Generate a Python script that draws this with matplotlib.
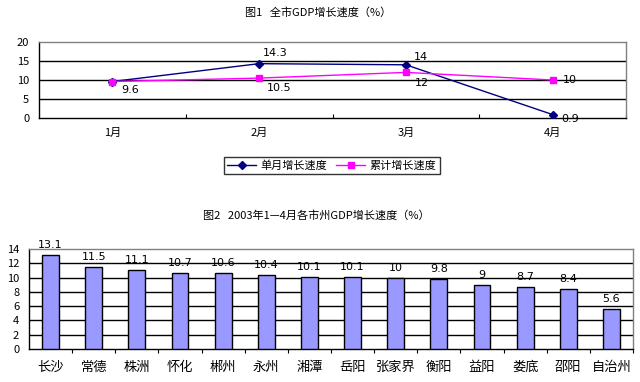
import matplotlib
matplotlib.use("Agg")
import matplotlib.pyplot as plt

plt.rcParams['font.family'] = ['Noto Sans CJK SC', 'DejaVu Sans']

# 图1 data
months = ["1月", "2月", "3月", "4月"]
monthly = [9.6, 14.3, 14, 0.9]
cumulative = [9.6, 10.5, 12, 10]

# 图2 data
cities = ["长沙", "常德", "株洲", "怀化", "郴州", "永州", "湘潭", "岳阳",
          "张家界", "衡阳", "益阳", "娄底", "邵阳", "自治州"]
city_growth = [13.1, 11.5, 11.1, 10.7, 10.6, 10.4, 10.1, 10.1,
               10, 9.8, 9, 8.7, 8.4, 5.6]

W, H = 640, 382
fig = plt.figure(figsize=(W / 100, H / 100), dpi=100)
fig.patch.set_facecolor("white")


def box(l, t, r, b):
    return [l / W, 1 - b / H, (r - l) / W, (b - t) / H]


def style_axes(ax):
    for s in ("top", "right"):
        ax.spines[s].set_color("#808080")
    for s in ("left", "bottom"):
        ax.spines[s].set_color("black")
    for s in ax.spines.values():
        s.set_linewidth(1)
    ax.tick_params(axis="y", length=0, labelsize=8, pad=7)


# ---------------- 图1 ----------------
ax1 = fig.add_axes(box(39, 42, 626, 118))
x1 = list(range(len(months)))
ax1.set_xlim(-0.5, len(months) - 0.5)
ax1.set_ylim(0, 20)
ax1.set_yticks([0, 5, 10, 15, 20])
for v in [5, 10, 15]:
    ax1.axhline(v, color="black", lw=1, zorder=1)
ax1.plot(x1, monthly, color="#000080", lw=1, marker="D", ms=4,
         label="单月增长速度", zorder=3)
ax1.plot(x1, cumulative, color="#FF00FF", lw=1, marker="s", ms=5,
         label="累计增长速度", zorder=4)
ax1.set_xticks([i + 0.5 for i in x1])
ax1.set_xticklabels([])
ax1.tick_params(axis="x", direction="in", length=3, color="black")
for i, m in enumerate(months):
    ax1.text(i, -0.2, m, transform=ax1.get_xaxis_transform(),
             ha="center", va="center", fontsize=8)
style_axes(ax1)

mon_off = [None, (4, 11), (8, 8), (9, -4)]
cum_off = [(9, -8), (8, -10), (9, -11), (10, 0)]
for i in x1:
    if mon_off[i] is not None:
        ax1.annotate(f"{monthly[i]:g}", (i, monthly[i]), xytext=mon_off[i],
                     textcoords="offset pixels", ha="left", va="center",
                     fontsize=8, family="DejaVu Sans")
    ax1.annotate(f"{cumulative[i]:g}", (i, cumulative[i]), xytext=cum_off[i],
                 textcoords="offset pixels", ha="left", va="center",
                 fontsize=8, family="DejaVu Sans")

leg = ax1.legend(loc="center", bbox_to_anchor=(332 / W, 1 - 165.5 / H),
                 bbox_transform=fig.transFigure, ncol=2, fontsize=8,
                 frameon=True, fancybox=False, handlelength=2.6,
                 borderpad=0.3, columnspacing=0.8, handletextpad=0.4)
leg.get_frame().set_edgecolor("black")
leg.get_frame().set_linewidth(1)

fig.text(318 / W, 1 - 12 / H, "图1   全市GDP增长速度（%）", ha="center",
         va="center", fontsize=8)

# ---------------- 图2 ----------------
ax2 = fig.add_axes(box(29, 249, 633, 349))
x2 = list(range(len(cities)))
ax2.set_xlim(-0.5, len(cities) - 0.5)
ax2.set_ylim(0, 14)
ax2.set_yticks(range(0, 15, 2))
for v in range(2, 14, 2):
    ax2.axhline(v, color="black", lw=1, zorder=1)
ax2.bar(x2, city_growth, width=0.39, color="#9999FF", edgecolor="black",
        lw=1, zorder=3)
for i, v in zip(x2, city_growth):
    ax2.annotate(f"{v:g}", (i, v), xytext=(0, 10), textcoords="offset pixels",
                 ha="center", va="center", fontsize=8, family="DejaVu Sans")
ax2.set_xticks([i + 0.5 for i in x2])
ax2.set_xticklabels([])
ax2.tick_params(axis="x", direction="out", length=3, color="black")
for i, c in enumerate(cities):
    ax2.text(i, -0.18, c, transform=ax2.get_xaxis_transform(),
             ha="center", va="center", fontsize=9.5)
style_axes(ax2)

fig.text(316 / W, 1 - 215 / H, "图2   2003年1—4月各市州GDP增长速度（%）",
         ha="center", va="center", fontsize=8)

fig.savefig("out.png", dpi=100, facecolor="white")
